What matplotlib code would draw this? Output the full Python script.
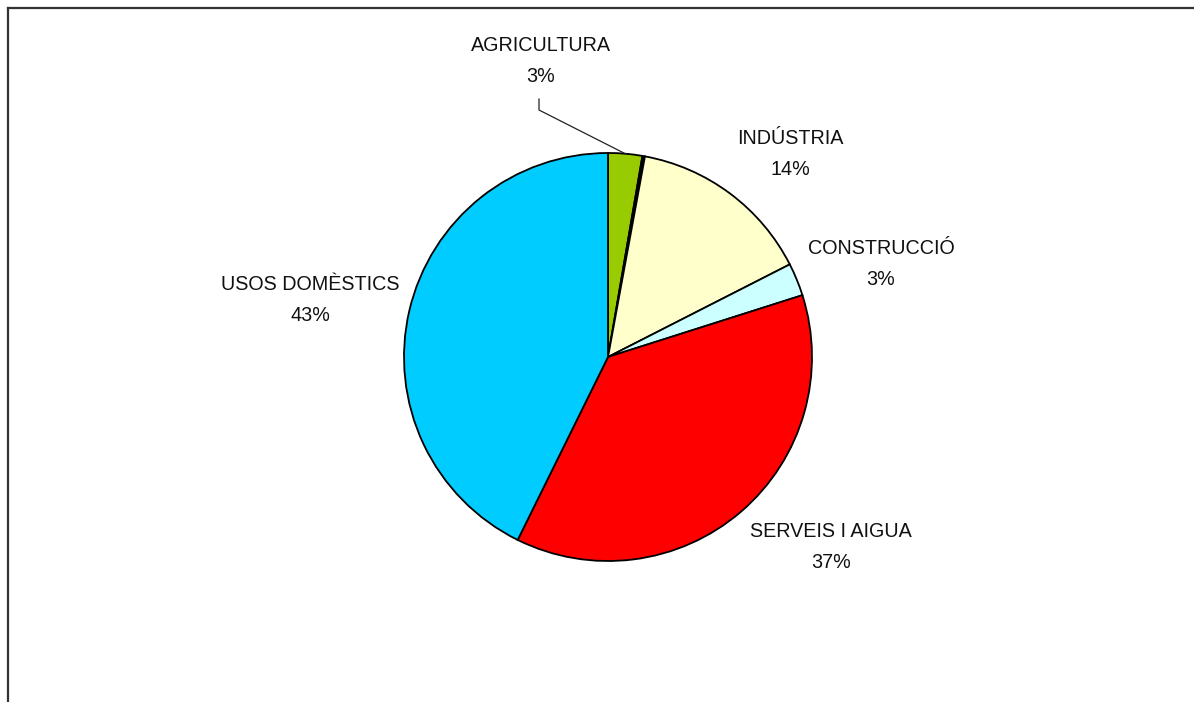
import matplotlib
matplotlib.use("Agg")
import matplotlib.pyplot as plt
import numpy as np

plt.rcParams['font.family'] = ['Liberation Sans', 'DejaVu Sans']

categories = ["AGRICULTURA", "", "INDÚSTRIA", "CONSTRUCCIÓ", "SERVEIS I AIGUA", "USOS DOMÈSTICS"]
values = [2.7, 0.2, 14.6, 2.6, 37.2, 42.7]
pct_labels = ["3%", "", "14%", "3%", "37%", "43%"]
colors = ["#99CC00", "#000000", "#FFFFCC", "#CCFFFF", "#FF0000", "#00CCFF"]

W, H = 1194, 702
fig = plt.figure(figsize=(W / 100, H / 100), dpi=100)
ax = fig.add_axes([0, 0, 1, 1])

cx, cy, r = 608, H - 357, 204
wedges, _ = ax.pie(values, colors=colors, startangle=90, counterclock=False,
                   center=(cx, cy), radius=r,
                   wedgeprops=dict(edgecolor="black", linewidth=1.3))
ax.set_xlim(0, W)
ax.set_ylim(0, H)
ax.set_aspect('auto')
ax.axis('off')

# label positions (pixel coords, from top)
label_pos = {0: (541, 61), 2: (790, 154), 3: (881, 264), 4: (831, 547), 5: (310, 300)}
for i, (x, y) in label_pos.items():
    ax.text(x, H - y, categories[i] + "\n" + pct_labels[i], ha='center', va='center',
            fontsize=14.2, linespacing=1.85, color='#111111')

# leader line for agricultura
w = wedges[0]
mid = np.deg2rad((w.theta1 + w.theta2) / 2)
px, py = cx + r * np.cos(mid), cy + r * np.sin(mid)
ax.plot([539, 539, px], [H - 99, H - 110, py], color='#222222', lw=0.9)

# outer frame (cropped chart area)
ax.plot([8, W], [H - 8, H - 8], color='#333333', lw=1.6, clip_on=False)
ax.plot([8, 8], [H - 8, 0], color='#333333', lw=1.6, clip_on=False)

fig.savefig("out.png", dpi=100, facecolor='white')
